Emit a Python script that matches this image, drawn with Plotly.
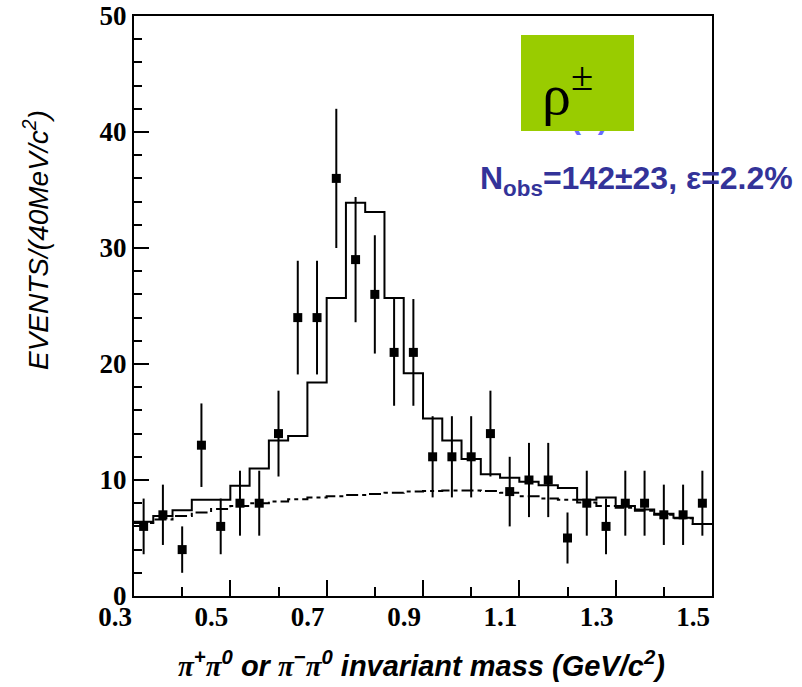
import plotly.graph_objects as go

# Bin centres of the pi pi0 invariant mass spectrum (GeV/c^2), 40 MeV bins
mass = [0.32, 0.36, 0.40, 0.44, 0.48, 0.52, 0.56, 0.60, 0.64, 0.68,
        0.72, 0.76, 0.80, 0.84, 0.88, 0.92, 0.96, 1.00, 1.04, 1.08,
        1.12, 1.16, 1.20, 1.24, 1.28, 1.32, 1.36, 1.40, 1.44, 1.48]

# Observed events per bin and their statistical errors
events = [6, 7, 4, 13, 6, 8, 8, 14, 24, 24,
          36, 29, 26, 21, 21, 12, 12, 12, 14, 9,
          10, 10, 5, 8, 6, 8, 8, 7, 7, 8]
errors = [2.4, 2.6, 2.0, 3.6, 2.4, 2.8, 2.8, 3.7, 4.9, 4.9,
          6.0, 5.4, 5.1, 4.6, 4.6, 3.5, 3.5, 3.5, 3.7, 3.0,
          3.2, 3.2, 2.2, 2.8, 2.4, 2.8, 2.8, 2.6, 2.6, 2.8]

# Fit result: total (signal + background) and background only, per bin
fit_total = [6.4, 6.9, 7.4, 8.3, 8.3, 9.5, 11.0, 13.4, 13.8, 18.4,
             25.7, 33.9, 33.1, 25.7, 19.2, 15.3, 13.4, 11.8, 10.5, 10.2,
             9.85, 9.55, 9.3, 8.3, 8.5, 7.75, 7.45, 7.1, 6.75, 6.2]
fit_bkg = [6.3, 6.6, 6.9, 7.2, 7.5, 7.75, 8.0, 8.15, 8.35, 8.5,
           8.6, 8.7, 8.8, 8.9, 9.0, 9.05, 9.1, 9.1, 9.05, 8.9,
           8.6, 8.4, 8.3, 8.05, 7.75, 7.6, 7.35, 7.0, 6.7, 6.2]

x_ticks = [0.3, 0.5, 0.7, 0.9, 1.1, 1.3, 1.5]
x_ticklabels = ["0.3", "0.5", "0.7", "0.9", "1.1", "1.3", "1.5"]
y_ticks = [0, 10, 20, 30, 40, 50]

half_bin = 0.02
edges = [m - half_bin for m in mass] + [mass[-1] + half_bin]

W, H = 802, 687
L, R, T, B = 134, 90, 16, 91
pw, ph = W - L - R, H - T - B


def px(xp):
    return (xp - L) / pw


def py(yp):
    return (H - B - yp) / ph


fig = go.Figure()

fig.add_trace(go.Scatter(
    x=edges, y=fit_bkg + [fit_bkg[-1]], mode="lines", line_shape="hv",
    line=dict(color="black", width=2, dash="12px,4px,4px,4px"),
    showlegend=False, hoverinfo="skip"))

fig.add_trace(go.Scatter(
    x=edges, y=fit_total + [fit_total[-1]], mode="lines", line_shape="hv",
    line=dict(color="black", width=2),
    showlegend=False, hoverinfo="skip"))

fig.add_trace(go.Scatter(
    x=mass, y=events, mode="markers",
    marker=dict(symbol="square", size=9, color="black"),
    error_y=dict(type="data", array=errors, visible=True,
                 thickness=2, width=0, color="black"),
    showlegend=False))

tick_font = dict(family="Liberation Serif", size=27, color="black", weight="bold")

fig.update_layout(
    width=W, height=H, autosize=False,
    margin=dict(l=L, r=R, t=T, b=B, pad=0, autoexpand=False),
    paper_bgcolor="white", plot_bgcolor="white",
    xaxis=dict(range=[0.3, 1.5], tickvals=x_ticks, ticktext=x_ticklabels,
               ticks="inside", ticklen=16, tickwidth=2, tickcolor="black",
               minor=dict(tickvals=[0.4, 0.6, 0.8, 1.0, 1.2, 1.4],
                          ticks="inside", ticklen=9, tickwidth=2, tickcolor="black"),
               showline=True, linewidth=2, linecolor="black", mirror=True,
               showgrid=False, zeroline=False, tickfont=tick_font,
               ticklabelshift=-19, ticklabelstandoff=-4, automargin=False),
    yaxis=dict(range=[0, 50], tickvals=y_ticks,
               ticks="inside", ticklen=15, tickwidth=2, tickcolor="black",
               minor=dict(dtick=2, tick0=0, ticks="inside", ticklen=8,
                          tickwidth=2, tickcolor="black"),
               showline=True, linewidth=2, linecolor="black", mirror=True,
               showgrid=False, zeroline=False, tickfont=tick_font,
               automargin=False),
)

serif = "font-family:'Liberation Serif'"
xtitle = (f"<span style=\"{serif}\">π</span><sup>+</sup>"
          f"<span style=\"{serif}\">π</span><sup>0</sup> or "
          f"<span style=\"{serif}\">π</span><sup>−</sup>"
          f"<span style=\"{serif}\">π</span><sup>0</sup> "
          "invariant mass (GeV/c<sup>2</sup>)")

annotations = [
    # axis titles
    dict(x=px(421), y=py(664), text=xtitle,
         font=dict(family="Liberation Sans", size=29, color="black",
                   style="italic", weight="bold")),
    dict(x=px(36), y=py(240), text="EVENTS/(40MeV/c<sup>2</sup>)", textangle=-90,
         font=dict(family="Liberation Sans", size=28, color="black", style="italic")),
    # panel label, mostly covered by the rho badge
    dict(x=px(589), y=py(119), text="(a)",
         font=dict(family="Liberation Sans", size=30, color="#6a6aff", weight="bold")),
    # rho badge
    dict(x=px(577.5), y=py(83), text=" ", bgcolor="#99cc00",
         width=113, height=96, borderpad=0, borderwidth=0),
    dict(x=px(567), y=py(90), text="ρ<sup>±</sup>",
         font=dict(family="Liberation Serif", size=58, color="black")),
    # fit summary
    dict(x=px(478), y=py(180), xanchor="left",
         text="N<sub>obs</sub>=142±23, ε=2.2%",
         font=dict(family="Liberation Sans", size=32, color="#333399", weight="bold")),
]
for a in annotations:
    a.setdefault("xref", "paper")
    a.setdefault("yref", "paper")
    a.setdefault("xanchor", "center")
    a.setdefault("yanchor", "middle")
    a.setdefault("showarrow", False)
fig.update_layout(annotations=annotations)

fig.write_html("out.html")
